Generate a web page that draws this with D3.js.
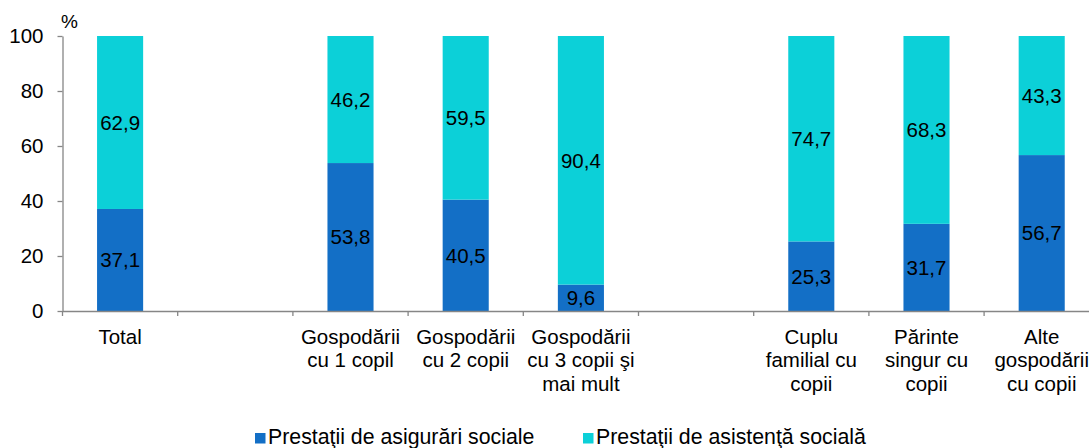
<!DOCTYPE html>
<html>
<head>
<meta charset="utf-8">
<script src="https://cdn.jsdelivr.net/npm/d3@7"></script>
<style>
  html, body { margin: 0; padding: 0; background: #fff; }
  svg { display: block; font-family: "Liberation Sans", Arial, sans-serif; }
</style>
</head>
<body>
<svg id="chart" width="1089" height="448"></svg>
<script>
// ---- data ----
const categories = [
  ["Total"],
  [],
  ["Gospodării", "cu 1 copil"],
  ["Gospodării", "cu 2 copii"],
  ["Gospodării", "cu 3 copii şi", "mai mult"],
  [],
  ["Cuplu", "familial cu", "copii"],
  ["Părinte", "singur cu", "copii"],
  ["Alte", "gospodării", "cu copii"]
];
const insurance = [37.1, null, 53.8, 40.5, 9.6, null, 25.3, 31.7, 56.7];
const assistance = [62.9, null, 46.2, 59.5, 90.4, null, 74.7, 68.3, 43.3];
const seriesNames = ["Prestaţii de asigurări sociale", "Prestaţii de asistenţă socială"];
const yTicks = [0, 20, 40, 60, 80, 100];

// ---- layout ----
const colors = ["#136FC6", "#0CD0D8"];
const mLeft = 62.5, mTop = 36, mBottom = 311;
const slotCount = categories.length;
const ids = d3.range(slotCount);
const step = 115.2;
const mRight = mLeft + step * slotCount;

const svg = d3.select("#chart");
const x = d3.scaleBand().domain(ids).range([mLeft, mRight]).paddingInner(0.6).paddingOuter(0.3);
const y = d3.scaleLinear().domain([0, 100]).range([mBottom, mTop]);

const axisColor = "#868686";
const fs = "20.5px";
const fmt = v => v.toFixed(1).replace(".", ",");

// bars
const g = svg.append("g");
ids.forEach(i => {
  if (insurance[i] == null) return;
  const v1 = insurance[i], v2 = assistance[i];
  g.append("rect")
    .attr("x", x(i)).attr("width", x.bandwidth())
    .attr("y", y(v1)).attr("height", y(0) - y(v1))
    .attr("fill", colors[0]);
  g.append("rect")
    .attr("x", x(i)).attr("width", x.bandwidth())
    .attr("y", y(v1 + v2)).attr("height", y(v1) - y(v1 + v2))
    .attr("fill", colors[1]);
  g.append("text")
    .attr("x", x(i) + x.bandwidth() / 2)
    .attr("y", (y(0) + y(v1)) / 2)
    .attr("dy", "0.36em")
    .attr("text-anchor", "middle")
    .style("font-size", fs).attr("fill", "#000")
    .text(fmt(v1));
  g.append("text")
    .attr("x", x(i) + x.bandwidth() / 2)
    .attr("y", (y(v1) + y(v1 + v2)) / 2)
    .attr("dy", "0.36em")
    .attr("text-anchor", "middle")
    .style("font-size", fs).attr("fill", "#000")
    .text(fmt(v2));
});

// y axis
const yAxis = svg.append("g")
  .attr("transform", `translate(${mLeft},0)`)
  .call(d3.axisLeft(y).tickValues(yTicks).tickSize(5).tickPadding(14).tickSizeOuter(0));
yAxis.select(".domain").attr("stroke", axisColor).attr("stroke-width", 1.3);
yAxis.selectAll(".tick line").attr("stroke", axisColor).attr("stroke-width", 1.3);
yAxis.selectAll(".tick text").style("font-size", fs).style("font-family", "Liberation Sans, Arial, sans-serif").attr("fill", "#000");

// x axis
const xAxis = svg.append("g")
  .attr("transform", `translate(0,${mBottom})`)
  .call(d3.axisBottom(x).tickSize(0).tickPadding(0).tickFormat(() => ""));
xAxis.select(".domain").attr("stroke", axisColor).attr("stroke-width", 1.3);
d3.range(slotCount + 1).forEach(k => {
  const bx = mLeft + k * x.step();
  xAxis.append("line").attr("x1", bx).attr("x2", bx).attr("y1", 0).attr("y2", 5)
    .attr("stroke", axisColor).attr("stroke-width", 1.3);
});
// category labels
ids.forEach(i => {
  const lines = categories[i];
  if (!lines.length) return;
  const t = svg.append("text")
    .attr("text-anchor", "middle")
    .style("font-size", fs).attr("fill", "#000");
  lines.forEach((ln, j) => {
    t.append("tspan").attr("x", x(i) + x.bandwidth() / 2).attr("y", 344 + j * 23.3).text(ln);
  });
});

// % label
svg.append("text").attr("x", 61).attr("y", 28).style("font-size", "19px").attr("fill", "#000").text("%");

// legend
const legendX = [255, 583];
seriesNames.forEach((name, i) => {
  svg.append("rect").attr("x", legendX[i]).attr("y", 433).attr("width", 10.5).attr("height", 10.5).attr("fill", colors[i]);
  svg.append("text").attr("x", legendX[i] + 13).attr("y", 444).style("font-size", "21.3px").attr("fill", "#000").text(name);
});
</script>
</body>
</html>
